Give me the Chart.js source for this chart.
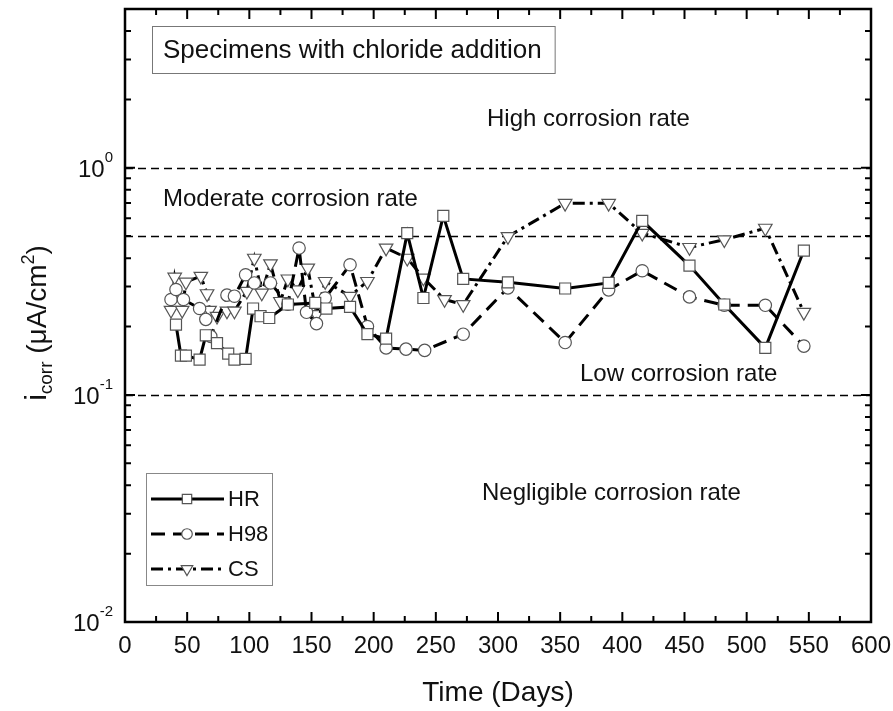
<!DOCTYPE html>
<html>
<head>
<meta charset="utf-8">
<script src="https://cdn.jsdelivr.net/npm/chart.js@4.4.1/dist/chart.umd.min.js"></script>
<style>
  html, body { margin: 0; padding: 0; background: #fff; }
</style>
</head>
<body>
<canvas id="corrChart" width="893" height="711"></canvas>
<script>
// time in days / i_corr in uA/cm2
const hrDays = [41, 45, 49, 60, 65, 74, 83, 88, 97, 103, 109, 116, 131, 153, 162, 181, 195, 210, 227, 240, 256, 272, 308, 354, 389, 416, 454, 482, 515, 546];
const hrValues = [0.204, 0.149, 0.149, 0.143, 0.183, 0.169, 0.152, 0.143, 0.144, 0.24, 0.222, 0.218, 0.25, 0.254, 0.24, 0.244, 0.185, 0.177, 0.515, 0.267, 0.614, 0.324, 0.313, 0.294, 0.311, 0.584, 0.371, 0.25, 0.161, 0.432];

const h98Days = [37, 41, 47, 60, 65, 69, 82, 88, 97, 104, 117, 131, 140, 146, 154, 161, 181, 195, 210, 226, 241, 272, 308, 354, 389, 416, 454, 482, 515, 546];
const h98Values = [0.263, 0.291, 0.263, 0.24, 0.215, 0.181, 0.275, 0.272, 0.338, 0.311, 0.311, 0.251, 0.443, 0.231, 0.206, 0.267, 0.374, 0.2, 0.161, 0.159, 0.157, 0.185, 0.296, 0.17, 0.29, 0.352, 0.27, 0.248, 0.248, 0.164];

const csDays = [37, 40, 46, 49, 61, 66, 68, 74, 82, 88, 98, 104, 110, 117, 125, 131, 139, 147, 154, 161, 181, 195, 210, 227, 240, 257, 272, 308, 354, 389, 416, 454, 482, 515, 546];
const csValues = [0.236, 0.33, 0.236, 0.314, 0.333, 0.279, 0.236, 0.222, 0.234, 0.234, 0.286, 0.40, 0.281, 0.378, 0.258, 0.324, 0.29, 0.362, 0.226, 0.316, 0.272, 0.316, 0.443, 0.40, 0.327, 0.263, 0.25, 0.498, 0.697, 0.697, 0.515, 0.446, 0.482, 0.542, 0.231];

const xTicks = [0, 50, 100, 150, 200, 250, 300, 350, 400, 450, 500, 550, 600];
const yTicks = [0.01, 0.1, 1];
const yTickExps = ['-2', '-1', '0'];
const refLevels = [1, 0.5, 0.1];

const FONT = '"Liberation Sans", Arial, sans-serif';

const toPoints = (days, vals) => days.map((d, i) => ({ x: d, y: vals[i] }));

const seriesStyle = [
    { label: 'HR', style: 'rect', radius: 7.8, rot: 0, dash: [] },
    { label: 'H98', style: 'circle', radius: 6.2, rot: 0, dash: [14, 8] },
    { label: 'CS', style: 'triangle', radius: 7.8, rot: 180, dash: [12, 5, 3, 5] },
];

const datasets = [
    toPoints(hrDays, hrValues),
    toPoints(h98Days, h98Values),
    toPoints(csDays, csValues),
].map((pts, i) => ({
    label: seriesStyle[i].label,
    data: pts,
    borderColor: '#000',
    borderWidth: 3,
    borderDash: seriesStyle[i].dash,
    tension: 0,
    pointStyle: seriesStyle[i].style,
    pointRotation: seriesStyle[i].rot,
    pointRadius: seriesStyle[i].radius,
    pointBorderColor: '#555',
    pointBorderWidth: 1.2,
    pointBackgroundColor: '#fff',
}));

function text(ctx, str, x, y, size, align) {
    ctx.font = size + 'px ' + FONT;
    ctx.textAlign = align || 'left';
    ctx.fillText(str, x, y);
}

const backgroundPlugin = {
    id: 'bgStuff',
    beforeDatasetsDraw(chart) {
        const { ctx, chartArea: a, scales: { y } } = chart;
        ctx.save();
        ctx.strokeStyle = '#000';
        ctx.lineWidth = 1.6;
        ctx.setLineDash([8, 5]);
        refLevels.forEach(v => {
            const py = Math.round(y.getPixelForValue(v)) + 0.5;
            ctx.beginPath();
            ctx.moveTo(a.left, py);
            ctx.lineTo(a.right, py);
            ctx.stroke();
        });
        ctx.setLineDash([]);
        ctx.fillStyle = '#111';
        ctx.textBaseline = 'alphabetic';
        text(ctx, 'High corrosion rate', 487, 126, 24);
        text(ctx, 'Moderate corrosion rate', 163, 206, 24);
        text(ctx, 'Low corrosion rate', 580, 381, 24);
        text(ctx, 'Negligible corrosion rate', 482, 500, 24);
        ctx.restore();
    },
    afterDraw(chart) {
        const { ctx, chartArea: a, scales: { x, y } } = chart;
        ctx.save();
        ctx.strokeStyle = '#000';
        ctx.fillStyle = '#000';

        // inward ticks on all four sides
        ctx.lineWidth = 2;
        for (let d = 0; d <= 600; d += 25) {
            const px = x.getPixelForValue(d);
            const len = d % 50 === 0 ? 10 : 6;
            ctx.beginPath();
            ctx.moveTo(px, a.bottom); ctx.lineTo(px, a.bottom - len);
            ctx.moveTo(px, a.top); ctx.lineTo(px, a.top + len);
            ctx.stroke();
        }
        for (let e = -2; e <= 0; e++) {
            for (let m = 1; m <= 9; m++) {
                const v = m * Math.pow(10, e);
                if (v > y.max) continue;
                const py = y.getPixelForValue(v);
                const len = m === 1 ? 10 : 6;
                ctx.beginPath();
                ctx.moveTo(a.left, py); ctx.lineTo(a.left + len, py);
                ctx.moveTo(a.right, py); ctx.lineTo(a.right - len, py);
                ctx.stroke();
            }
        }

        // frame
        ctx.lineWidth = 2.5;
        ctx.strokeRect(a.left, a.top, a.right - a.left, a.bottom - a.top);

        // tick labels
        ctx.fillStyle = '#111';
        ctx.textBaseline = 'alphabetic';
        xTicks.forEach(t => text(ctx, String(t), x.getPixelForValue(t), 653, 24, 'center'));
        yTicks.forEach((t, i) => {
            const py = y.getPixelForValue(t);
            ctx.font = '15px ' + FONT;
            const ew = ctx.measureText(yTickExps[i]).width;
            text(ctx, yTickExps[i], 113, py - 6, 15, 'right');
            text(ctx, '10', 113 - ew, py + 9, 24, 'right');
        });

        // axis titles
        text(ctx, 'Time (Days)', (a.left + a.right) / 2, 701, 28, 'center');
        ctx.save();
        ctx.translate(46, 323);
        ctx.rotate(-Math.PI / 2);
        const parts = [
            ['i', 30, 0], ['corr', 19, 6], [' (\u03BCA/cm', 28, 0], ['2', 18, -12], [')', 28, 0],
        ];
        let total = 0;
        parts.forEach(p => { ctx.font = p[1] + 'px ' + FONT; total += ctx.measureText(p[0]).width; });
        let cx = -total / 2;
        parts.forEach(p => {
            ctx.font = p[1] + 'px ' + FONT;
            ctx.textAlign = 'left';
            ctx.fillText(p[0], cx, p[2]);
            cx += ctx.measureText(p[0]).width;
        });
        ctx.restore();

        // title box
        ctx.font = '26px ' + FONT;
        const tw = ctx.measureText('Specimens with chloride addition').width;
        ctx.fillStyle = '#fff';
        ctx.fillRect(152, 26, tw + 24, 47);
        ctx.strokeStyle = '#777';
        ctx.lineWidth = 1;
        ctx.strokeRect(152.5, 26.5, tw + 24, 47);
        ctx.fillStyle = '#111';
        ctx.textBaseline = 'middle';
        text(ctx, 'Specimens with chloride addition', 163, 51, 26);

        // legend
        ctx.fillStyle = '#fff';
        ctx.fillRect(146, 473, 126, 112);
        ctx.strokeStyle = '#888';
        ctx.strokeRect(146.5, 473.5, 126, 112);
        seriesStyle.forEach((s, i) => {
            const ly = 499 + i * 35;
            ctx.strokeStyle = '#000';
            ctx.lineWidth = 3;
            ctx.setLineDash(s.dash);
            ctx.beginPath();
            ctx.moveTo(151, ly); ctx.lineTo(224, ly);
            ctx.stroke();
            ctx.setLineDash([]);
            ctx.fillStyle = '#fff';
            ctx.strokeStyle = '#555';
            ctx.lineWidth = 1.2;
            Chart.helpers.drawPoint(ctx, { pointStyle: s.style, rotation: s.rot, radius: s.radius * 0.85, borderWidth: 1.2 }, 187, ly);
            ctx.fillStyle = '#111';
            ctx.textBaseline = 'middle';
            text(ctx, s.label, 228, ly + 1, 22);
        });
        ctx.restore();
    },
};

const ctx = document.getElementById('corrChart').getContext('2d');
new Chart(ctx, {
    type: 'line',
    data: { datasets: datasets },
    options: {
        responsive: false,
        animation: false,
        devicePixelRatio: 1,
        layout: { padding: { left: 125, top: 8, right: 22, bottom: 89 } },
        plugins: { legend: { display: false }, tooltip: { enabled: false } },
        scales: {
            x: { type: 'linear', min: 0, max: 600, display: false },
            y: { type: 'logarithmic', min: 0.01, max: 5, display: false },
        },
    },
    plugins: [backgroundPlugin],
});
</script>
</body>
</html>
